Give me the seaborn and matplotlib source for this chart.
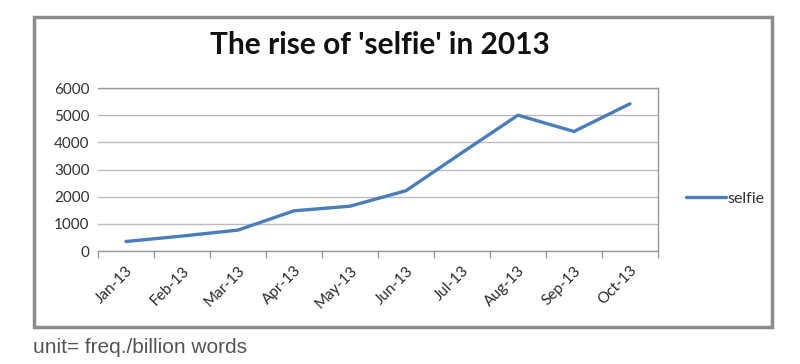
import matplotlib
matplotlib.use("Agg")
import matplotlib.pyplot as plt
import seaborn as sns
import pandas as pd
from matplotlib.patches import Rectangle
from matplotlib.ticker import FixedLocator

months = ["Jan-13", "Feb-13", "Mar-13", "Apr-13", "May-13",
          "Jun-13", "Jul-13", "Aug-13", "Sep-13", "Oct-13"]
selfie = [350, 550, 770, 1480, 1650, 2220, 3620, 5000, 4400, 5420]
yticks = [0, 1000, 2000, 3000, 4000, 5000, 6000]

sns.set_theme(style="white")
plt.rcParams["font.family"] = ["Lato", "DejaVu Sans"]

df = pd.DataFrame({"month": months, "value": selfie, "series": "selfie"})

fig = plt.figure(figsize=(8, 3.64), dpi=100)
ax = fig.add_axes([0.1225, 0.3104, 0.70, 0.4478])

sns.lineplot(data=df, x="month", y="value", hue="series", sort=False,
             palette=["#4A7EBB"], linewidth=2.4, ax=ax, legend=True)

ax.set_xlim(-0.5, len(months) - 0.5)
ax.set_ylim(0, 6000)
ax.set_yticks(yticks)
ax.set_yticklabels([str(v) for v in yticks], fontsize=11, color="#333333")
ax.set_xticks(range(len(months)))
ax.set_xticklabels(months, rotation=45, ha="right", rotation_mode="anchor",
                   fontsize=11, color="#2A2A2A")
ax.xaxis.set_minor_locator(FixedLocator([i - 0.5 for i in range(len(months) + 1)]))
ax.tick_params(axis="x", which="major", length=0, pad=9)
ax.tick_params(axis="x", which="minor", length=5, width=1, color="#999999", bottom=True)
ax.tick_params(axis="y", length=0, pad=6)
ax.set_xlabel("")
ax.set_ylabel("")
ax.grid(axis="y", color="#BBBBBB", linewidth=1)
ax.set_axisbelow(True)
for s in ax.spines.values():
    s.set_color("#999999")
    s.set_linewidth(1)
ax.spines["left"].set_visible(False)

leg = ax.legend(loc="center left", bbox_to_anchor=(1.025, 0.32), frameon=False,
                fontsize=11.5, handlelength=2.5, handletextpad=0.1)
for t in leg.get_texts():
    t.set_color("#333333")

fig.text(0.475, 0.875, "The rise of 'selfie' in 2013", ha="center", va="center",
         fontsize=21.5, fontweight="bold", color="#111111")

fig.patches.append(Rectangle((0.043, 0.102), 0.922, 0.85, transform=fig.transFigure,
                             fill=False, edgecolor="#8C8C8C", linewidth=2.5))

fig.text(0.041, 0.045, "unit= freq./billion words", ha="left", va="center",
         fontsize=15, color="#555555", family=["Liberation Sans", "DejaVu Sans"])

fig.savefig("out.png", dpi=100)
